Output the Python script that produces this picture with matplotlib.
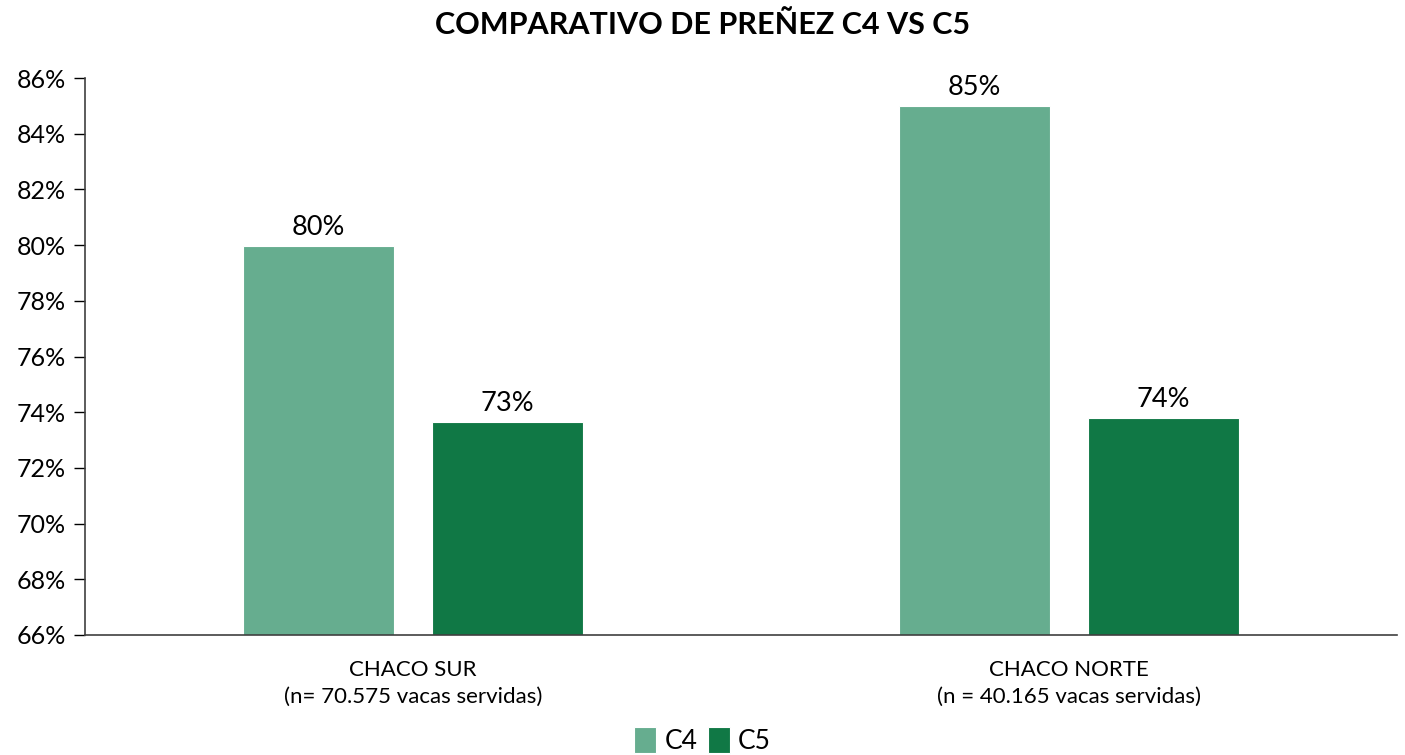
import matplotlib
matplotlib.use("Agg")
import matplotlib.pyplot as plt
import numpy as np

plt.rcParams['font.family'] = ['Lato', 'DejaVu Sans']

# datos
categorias = ["CHACO SUR\n(n= 70.575 vacas servidas)", "CHACO NORTE\n(n = 40.165 vacas servidas)"]
c4 = [79.95, 85.0]
c5 = [73.64, 73.79]
etiquetas_c4 = ["80%", "85%"]
etiquetas_c5 = ["73%", "74%"]
ticks_y = [66, 68, 70, 72, 74, 76, 78, 80, 82, 84, 86]

color_c4 = "#66AD8F"
color_c5 = "#107845"

fig = plt.figure(figsize=(14.05, 7.55), dpi=100)
ax = fig.add_axes([85/1405, 1-635/755, (1397-85)/1405, (635-78)/755])

x = np.arange(len(categorias))
ancho = 0.23
desp = 0.144

b1 = ax.bar(x - desp, c4, ancho, bottom=0, color=color_c4, edgecolor="white", linewidth=0.8, label="C4")
b2 = ax.bar(x + desp, c5, ancho, bottom=0, color=color_c5, edgecolor="white", linewidth=0.8, label="C5")

for rect, lab in zip(b1, etiquetas_c4):
    ax.text(rect.get_x() + rect.get_width()/2, rect.get_height() + 0.22, lab,
            ha="center", va="bottom", fontsize=19.5)
for rect, lab in zip(b2, etiquetas_c5):
    ax.text(rect.get_x() + rect.get_width()/2, rect.get_height() + 0.22, lab,
            ha="center", va="bottom", fontsize=19.5)

ax.set_ylim(66, 86)
ax.set_xlim(-0.5, 1.5)
ax.set_yticks(ticks_y)
ax.set_yticklabels([f"{t}%" for t in ticks_y], fontsize=18)
ax.set_xticks(x)
ax.set_xticklabels(categorias, fontsize=16, linespacing=1.45)
ax.tick_params(axis="x", length=0, pad=18)
ax.tick_params(axis="y", length=8, width=1, pad=6)

ax.spines["top"].set_visible(False)
ax.spines["right"].set_visible(False)
ax.spines["left"].set_color("#404040")
ax.spines["bottom"].set_color("#404040")
ax.spines["left"].set_linewidth(1.2)
ax.spines["bottom"].set_linewidth(1.2)

fig.suptitle("COMPARATIVO DE PREÑEZ C4 VS C5", fontsize=22, fontweight="bold", y=0.985)

fig.legend(loc="lower center", ncol=2, frameon=False, fontsize=19,
           handlelength=0.85, handleheight=1.1, handletextpad=0.3, columnspacing=0.4,
           bbox_to_anchor=(0.5, -0.03))

fig.savefig("out.png", dpi=100)
